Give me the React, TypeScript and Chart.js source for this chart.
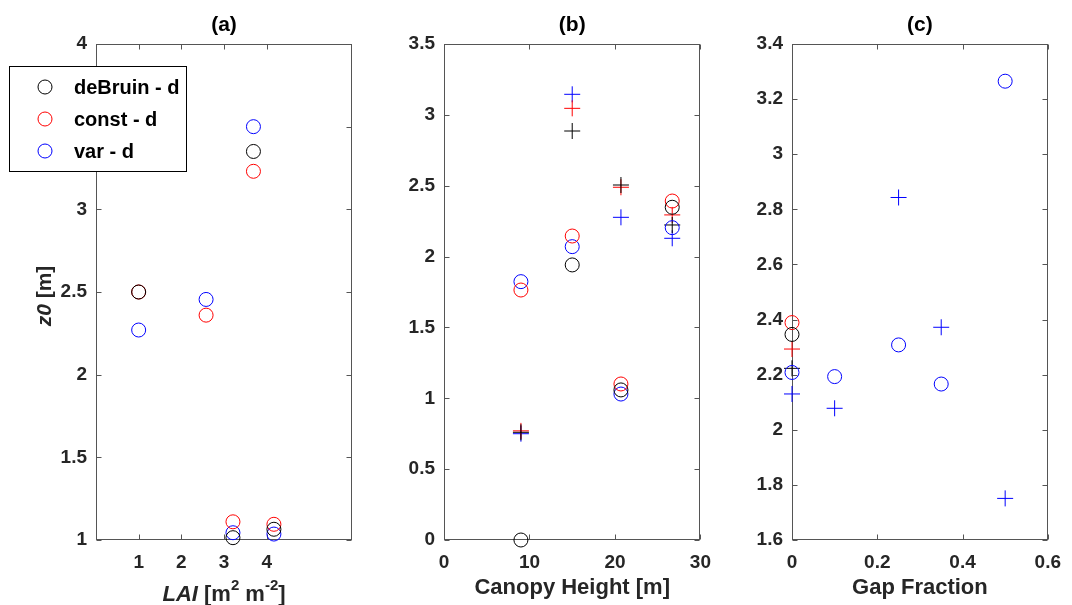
import React, { useEffect, useRef } from 'react';
import { Chart, registerables } from 'chart.js';

Chart.register(...registerables);

const FONT = '"Liberation Sans", Arial, Helvetica, sans-serif';
const TEXT = '#262626';
const AXIS = '#555555';
const BLACK = '#000000';
const RED = '#ff0000';
const BLUE = '#0000ff';

const seriesNames = ['deBruin - d', 'const - d', 'var - d'];

// ---- Panel (a): LAI ----
const laiTicks = [1, 2, 3, 4];
const laiDeBruinX = [1, 3.69, 3.21, 4.17];
const laiDeBruinY = [2.5, 3.35, 1.014, 1.065];
const laiConstX = [1, 2.58, 3.69, 3.21, 4.17];
const laiConstY = [2.5, 2.36, 3.23, 1.11, 1.095];
const laiVarX = [1, 2.58, 3.69, 3.21, 4.17];
const laiVarY = [2.27, 2.455, 3.5, 1.044, 1.036];

// ---- Panel (b): Canopy height ----
const heightX = [9, 15, 20.7, 26.7];
const hDeBruinCircle = [0.0, 1.941, 1.059, 2.348];
const hConstCircle = [1.764, 2.145, 1.101, 2.392];
const hVarCircle = [1.823, 2.07, 1.03, 2.204];
const hDeBruinPlus = [0.76, 2.886, 2.505, 2.223];
const hConstPlus = [0.77, 3.046, 2.489, 2.294];
const hVarPlus = [0.75, 3.145, 2.277, 2.129];

// ---- Panel (c): Gap fraction ----
const gapX = [0, 0.1, 0.25, 0.35, 0.5];
const gVarCircle = [2.208, 2.193, 2.308, 2.166, 3.265];
const gVarPlus = [2.13, 2.078, 2.843, 2.372, 1.751];
const gapSingleX = [0];
const gDeBruinCircle = [2.346];
const gConstCircle = [2.389];
const gDeBruinPlus = [2.223];
const gConstPlus = [2.293];

function series(label: string, xs: number[], ys: number[], color: string, style: 'circle' | 'cross') {
  return {
    label,
    data: xs.map((x, i) => ({ x, y: ys[i] })),
    borderColor: color,
    backgroundColor: 'rgba(0,0,0,0)',
    pointStyle: style,
    pointRadius: style === 'cross' ? 8 : 7,
    pointHoverRadius: style === 'cross' ? 8 : 7,
    pointBorderWidth: 1,
    borderWidth: 1,
    showLine: false,
    clip: false as any,
  };
}

const fmt = (v: any) => String(Number(Number(v).toFixed(3)));

const framePlugin = {
  id: 'matlabFrame',
  beforeDatasetsDraw(chart: any) {
    const { ctx, chartArea, scales } = chart;
    const L = Math.round(chartArea.left) + 0.5;
    const R = Math.round(chartArea.right) - 0.5;
    const T = Math.round(chartArea.top) + 0.5;
    const B = Math.round(chartArea.bottom) - 0.5;
    ctx.save();
    ctx.strokeStyle = AXIS;
    ctx.lineWidth = 1;
    ctx.strokeRect(L, T, R - L, B - T);
    ctx.beginPath();
    const tl = 5;
    scales.x.ticks.forEach((t: any) => {
      const px = Math.round(scales.x.getPixelForValue(t.value)) + 0.5;
      ctx.moveTo(px, B);
      ctx.lineTo(px, B - tl);
      ctx.moveTo(px, T);
      ctx.lineTo(px, T + tl);
    });
    scales.y.ticks.forEach((t: any) => {
      const py = Math.round(scales.y.getPixelForValue(t.value)) + 0.5;
      ctx.moveTo(L, py);
      ctx.lineTo(L + tl, py);
      ctx.moveTo(R, py);
      ctx.lineTo(R - tl, py);
    });
    ctx.stroke();
    ctx.restore();
  },
};

type Seg = { t: string; italic?: boolean; sup?: boolean };

function drawSegments(ctx: any, segs: Seg[], cx: number, baseline: number, size: number) {
  const supSize = Math.round(size * 0.68);
  const fontOf = (s: Seg) => `${s.italic ? 'italic ' : ''}bold ${s.sup ? supSize : size}px ${FONT}`;
  let total = 0;
  segs.forEach((s) => {
    ctx.font = fontOf(s);
    total += ctx.measureText(s.t).width;
  });
  let x = cx - total / 2;
  ctx.textAlign = 'left';
  ctx.textBaseline = 'alphabetic';
  segs.forEach((s) => {
    ctx.font = fontOf(s);
    ctx.fillText(s.t, x, s.sup ? baseline - size * 0.5 : baseline);
    x += ctx.measureText(s.t).width;
  });
}

const laiLabelsPlugin = {
  id: 'laiLabels',
  afterDraw(chart: any) {
    const { ctx, chartArea } = chart;
    ctx.save();
    ctx.fillStyle = TEXT;
    const cx = (chartArea.left + chartArea.right) / 2;
    drawSegments(
      ctx,
      [{ t: 'LAI', italic: true }, { t: ' [m' }, { t: '2', sup: true }, { t: ' m' }, { t: '-2', sup: true }, { t: ']' }],
      cx,
      601,
      22
    );
    const cy = (chartArea.top + chartArea.bottom) / 2;
    ctx.translate(51, cy + 4);
    ctx.rotate(-Math.PI / 2);
    drawSegments(ctx, [{ t: 'z0', italic: true }, { t: ' [m]' }], 0, 0, 21);
    ctx.restore();

    // legend box
    ctx.save();
    const bx = 9.5, by = 66.5, bw = 177, bh = 105;
    ctx.fillStyle = '#ffffff';
    ctx.fillRect(bx, by, bw, bh);
    ctx.strokeStyle = '#000000';
    ctx.lineWidth = 1;
    ctx.strokeRect(bx, by, bw, bh);
    const ds = chart.data.datasets;
    ds.slice(0, 3).forEach((d: any, i: number) => {
      const y = 87 + i * 32;
      ctx.beginPath();
      ctx.strokeStyle = d.borderColor;
      ctx.arc(45, y, 7, 0, Math.PI * 2);
      ctx.stroke();
      ctx.fillStyle = '#000000';
      ctx.font = `bold 20px ${FONT}`;
      ctx.textAlign = 'left';
      ctx.textBaseline = 'middle';
      ctx.fillText(d.label, 74, y + 1);
    });
    ctx.restore();
  },
};

type PanelOpts = {
  title: string;
  datasets: any[];
  xMin: number;
  xMax: number;
  xStep?: number;
  xTicks?: number[];
  yMin: number;
  yMax: number;
  yStep: number;
  yWidth: number;
  padRight: number;
  xTitle?: string;
  plugins?: any[];
};

function makeConfig(o: PanelOpts): any {
  const tickFont = { family: FONT, size: 19, weight: 'bold' as const };
  return {
    type: 'scatter',
    data: { datasets: o.datasets },
    options: {
      animation: false,
      responsive: false,
      events: [],
      layout: { padding: { left: 0, right: o.padRight, top: 0, bottom: 0 } },
      plugins: {
        legend: { display: false },
        tooltip: { enabled: false },
        title: {
          display: true,
          text: o.title,
          fullSize: false,
          color: '#000000',
          font: { family: FONT, size: 21, weight: 'bold' },
          padding: { top: 13, bottom: 5.8 },
        },
      },
      scales: {
        x: {
          type: 'linear',
          position: 'bottom',
          min: o.xMin,
          max: o.xMax,
          ticks: {
            stepSize: o.xStep,
            padding: 11,
            color: TEXT,
            font: tickFont,
            maxRotation: 0,
            autoSkip: false,
            callback: fmt,
          },
          afterBuildTicks: o.xTicks
            ? (s: any) => {
                s.ticks = o.xTicks!.map((v) => ({ value: v }));
              }
            : undefined,
          grid: { display: false, drawTicks: false },
          border: { display: false },
          title: o.xTitle
            ? {
                display: true,
                text: o.xTitle,
                color: TEXT,
                font: { family: FONT, size: 22, weight: 'bold' },
                padding: { top: 0, bottom: 4 },
              }
            : { display: false },
          afterFit: (s: any) => {
            s.height = 65;
          },
        },
        y: {
          type: 'linear',
          position: 'left',
          min: o.yMin,
          max: o.yMax,
          ticks: {
            stepSize: o.yStep,
            padding: 9,
            color: TEXT,
            font: tickFont,
            autoSkip: false,
            callback: fmt,
          },
          grid: { display: false, drawTicks: false },
          border: { display: false },
          afterFit: (s: any) => {
            s.width = o.yWidth;
          },
        },
      },
    },
    plugins: [framePlugin, ...(o.plugins || [])],
  };
}

const configA = () =>
  makeConfig({
    title: '(a)',
    datasets: [
      series(seriesNames[0], laiDeBruinX, laiDeBruinY, BLACK, 'circle'),
      series(seriesNames[1], laiConstX, laiConstY, RED, 'circle'),
      series(seriesNames[2], laiVarX, laiVarY, BLUE, 'circle'),
    ],
    xMin: 0,
    xMax: 6,
    xTicks: laiTicks,
    yMin: 1,
    yMax: 4,
    yStep: 0.5,
    yWidth: 96,
    padRight: 20,
    plugins: [laiLabelsPlugin],
  });

const configB = () =>
  makeConfig({
    title: '(b)',
    datasets: [
      series(seriesNames[0], heightX, hDeBruinCircle, BLACK, 'circle'),
      series(seriesNames[1], heightX, hConstCircle, RED, 'circle'),
      series(seriesNames[2], heightX, hVarCircle, BLUE, 'circle'),
      series(seriesNames[0], heightX, hDeBruinPlus, BLACK, 'cross'),
      series(seriesNames[1], heightX, hConstPlus, RED, 'cross'),
      series(seriesNames[2], heightX, hVarPlus, BLUE, 'cross'),
    ],
    xMin: 0,
    xMax: 30,
    xStep: 10,
    yMin: 0,
    yMax: 3.5,
    yStep: 0.5,
    yWidth: 72,
    padRight: 14,
    xTitle: 'Canopy Height [m]',
  });

const configC = () =>
  makeConfig({
    title: '(c)',
    datasets: [
      series(seriesNames[0], gapSingleX, gDeBruinCircle, BLACK, 'circle'),
      series(seriesNames[1], gapSingleX, gConstCircle, RED, 'circle'),
      series(seriesNames[2], gapX, gVarCircle, BLUE, 'circle'),
      series(seriesNames[0], gapSingleX, gDeBruinPlus, BLACK, 'cross'),
      series(seriesNames[1], gapSingleX, gConstPlus, RED, 'cross'),
      series(seriesNames[2], gapX, gVarPlus, BLUE, 'cross'),
    ],
    xMin: 0,
    xMax: 0.6,
    xStep: 0.2,
    yMin: 1.6,
    yMax: 3.4,
    yStep: 0.2,
    yWidth: 70,
    padRight: 18,
    xTitle: 'Gap Fraction',
  });

function Panel({ left, width, makeCfg }: { left: number; width: number; makeCfg: () => any }) {
  const ref = useRef<HTMLCanvasElement | null>(null);
  useEffect(() => {
    if (!ref.current) return;
    const chart = new Chart(ref.current, makeCfg());
    return () => chart.destroy();
  }, []);
  return (
    <canvas
      ref={ref}
      width={width}
      height={605}
      style={{ position: 'absolute', left, top: 0, width, height: 605 }}
    />
  );
}

export default function App() {
  return (
    <div style={{ position: 'absolute', left: 0, top: 0, width: 1072, height: 605, background: '#ffffff', overflow: 'hidden' }}>
      <Panel left={0} width={372} makeCfg={configA} />
      <Panel left={372} width={350} makeCfg={configB} />
      <Panel left={722} width={350} makeCfg={configC} />
    </div>
  );
}
